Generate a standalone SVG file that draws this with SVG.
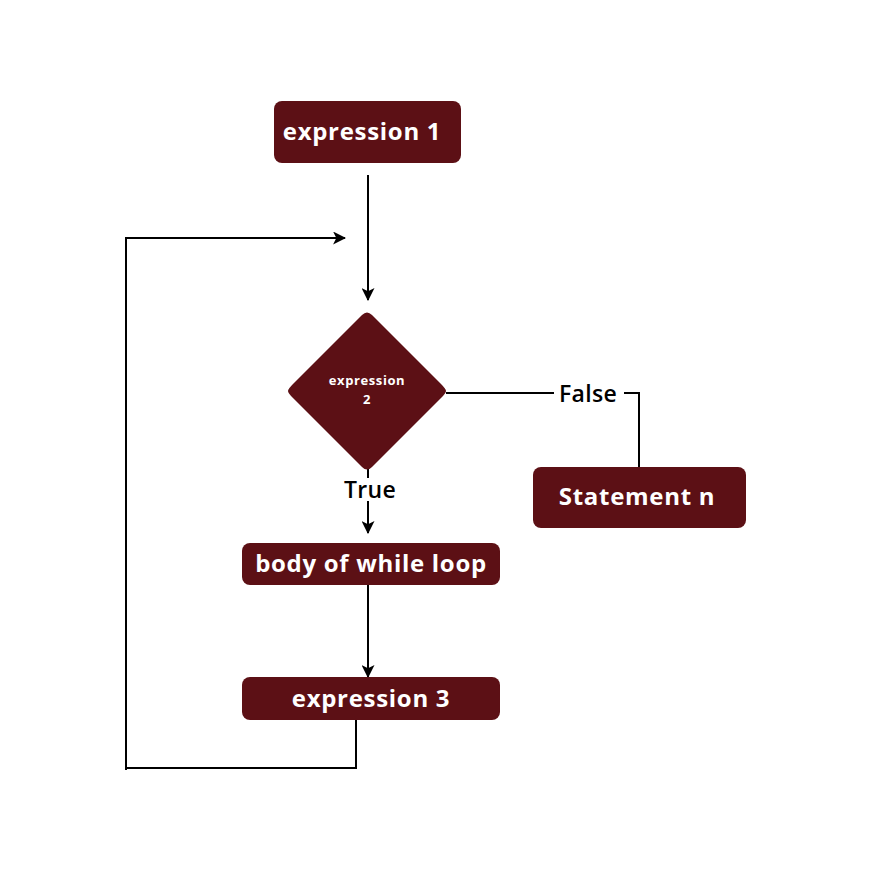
<svg xmlns="http://www.w3.org/2000/svg" width="873" height="871" viewBox="0 0 873 871">
<style>
.box{fill:#5c1015}
.lbl{font-family:"Open Sans","Liberation Sans",sans-serif;font-weight:700;fill:#fff;text-anchor:middle;letter-spacing:0.7px}
.edge{fill:none;stroke:#000;stroke-width:2}
.elbl{font-family:"Open Sans","Liberation Sans",sans-serif;font-weight:600;fill:#000;font-size:23px;text-anchor:middle;letter-spacing:0.3px}
</style>
<defs>
<marker id="ah" viewBox="0 0 12 12" refX="11" refY="6" markerWidth="13" markerHeight="13" markerUnits="userSpaceOnUse" orient="auto">
<path d="M0,0 L12,6 L0,12 L3,6 Z" fill="#000"/>
</marker>
</defs>
<rect width="873" height="871" fill="#fff"/>
<g id="connectors">
<path class="edge" d="M368,175 V300" marker-end="url(#ah)"/>
<path class="edge" d="M126,770 V238 H345" marker-end="url(#ah)"/>
<path class="edge" d="M446,393 H554"/>
<path class="edge" d="M624,393 H639 V467"/>
<path class="edge" d="M368,469 V478"/>
<path class="edge" d="M368,501 V533" marker-end="url(#ah)"/>
<path class="edge" d="M368,585 V677" marker-end="url(#ah)"/>
<path class="edge" d="M356,720 V768 H126"/>
<text class="elbl" x="588" y="402">False</text>
<text class="elbl" x="370" y="498">True</text>
</g>
<g id="expr2">
<path class="box" d="M362,315 Q367,310 372,315 L441,384 Q446,389 446,391 Q446,393 441,398 L372,467 Q367,472 362,467 L293,398 Q288,393 288,391 Q288,389 293,384 Z"/>
<text class="lbl" x="367" y="385" font-size="13" style="letter-spacing:0.6px">expression</text>
<text class="lbl" x="367" y="404" font-size="13">2</text>
</g>
<g id="expr1">
<rect class="box" x="274" y="101" width="187" height="62" rx="8"/>
<text class="lbl" x="362" y="140" font-size="24">expression 1</text>
</g>
<g id="stmtn">
<rect class="box" x="533" y="467" width="213" height="61" rx="8"/>
<text class="lbl" x="637" y="505" font-size="24">Statement n</text>
</g>
<g id="body">
<rect class="box" x="242" y="543" width="258" height="42" rx="8"/>
<text class="lbl" x="371" y="572" font-size="24">body of while loop</text>
</g>
<g id="expr3">
<rect class="box" x="242" y="677" width="258" height="43" rx="8"/>
<text class="lbl" x="371" y="707" font-size="24">expression 3</text>
</g>
</svg>
